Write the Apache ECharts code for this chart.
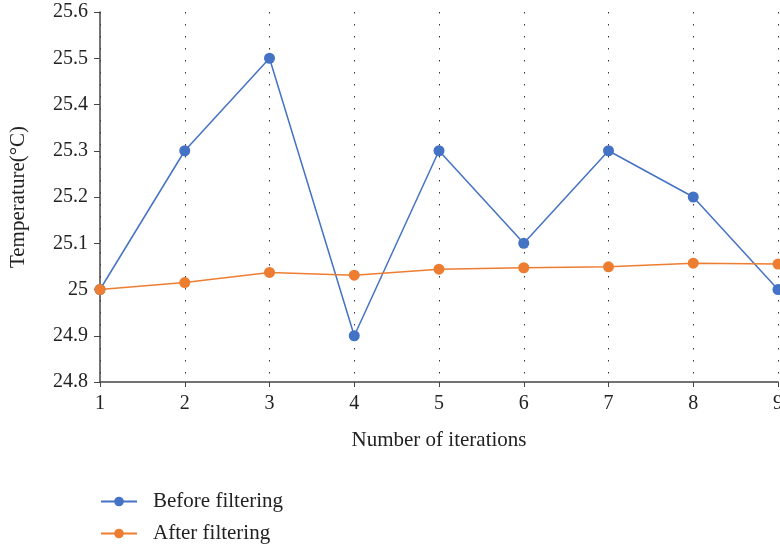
<!DOCTYPE html>
<html>
<head>
<meta charset="utf-8">
<script src="https://cdn.jsdelivr.net/npm/echarts@6/dist/echarts.min.js"></script>
<style>html,body{margin:0;padding:0;background:#fff}#c{width:780px;height:550px}</style>
</head>
<body>
<div id="c"></div>
<script>
var categories = ['1','2','3','4','5','6','7','8','9'];
var beforeFiltering = [25.0, 25.3, 25.5, 24.9, 25.3, 25.1, 25.3, 25.2, 25.0];
var afterFiltering = [25.0, 25.015, 25.037, 25.031, 25.044, 25.047, 25.049, 25.057, 25.055];
var seriesNames = ['Before filtering', 'After filtering'];

var font = 'Liberation Serif';
var chart = echarts.init(document.getElementById('c'));
chart.setOption({
  animation: false,
  textStyle: {fontFamily: font},
  grid: {left: 100, right: 2, top: 12, bottom: 168, containLabel: false, outerBoundsMode: 'none'},
  legend: {
    orient: 'vertical', left: 95, top: 486,
    itemWidth: 36, itemHeight: 12, itemGap: 11,
    textStyle: {fontFamily: font, fontSize: 21, color: '#222', padding: [0, 0, 0, 11]},
    data: seriesNames
  },
  xAxis: {
    type: 'category', data: categories, boundaryGap: false,
    name: 'Number of iterations', nameLocation: 'middle', nameGap: 48,
    nameTextStyle: {fontFamily: font, fontSize: 21, color: '#222'},
    axisLine: {lineStyle: {color: '#444', width: 1.5}},
    axisTick: {show: true, alignWithLabel: true, length: 5, lineStyle: {color: '#444'}},
    axisLabel: {fontFamily: font, fontSize: 20, color: '#222', margin: 12},
    splitLine: {show: true, lineStyle: {color: '#333', width: 1, type: [1.5, 10.5]}}
  },
  yAxis: {
    type: 'value', min: 24.8, max: 25.6, interval: 0.1,
    name: 'Temperature(°C)', nameLocation: 'middle', nameGap: 71, nameRotate: 90,
    nameTextStyle: {fontFamily: font, fontSize: 21, color: '#222'},
    axisLine: {show: true, lineStyle: {color: '#444', width: 1.5}},
    axisTick: {show: true, length: 6, lineStyle: {color: '#444'}},
    axisLabel: {fontFamily: font, fontSize: 20, color: '#222', margin: 12},
    splitLine: {show: false}
  },
  series: [
    {name: seriesNames[0], type: 'line', data: beforeFiltering, symbol: 'circle', symbolSize: 11,
     clip: false,
     lineStyle: {color: '#4472C4', width: 1.5}, itemStyle: {color: '#4472C4'}},
    {name: seriesNames[1], type: 'line', data: afterFiltering, symbol: 'circle', symbolSize: 11,
     clip: false,
     lineStyle: {color: '#ED7D31', width: 1.5}, itemStyle: {color: '#ED7D31'}}
  ]
});
</script>
</body>
</html>
